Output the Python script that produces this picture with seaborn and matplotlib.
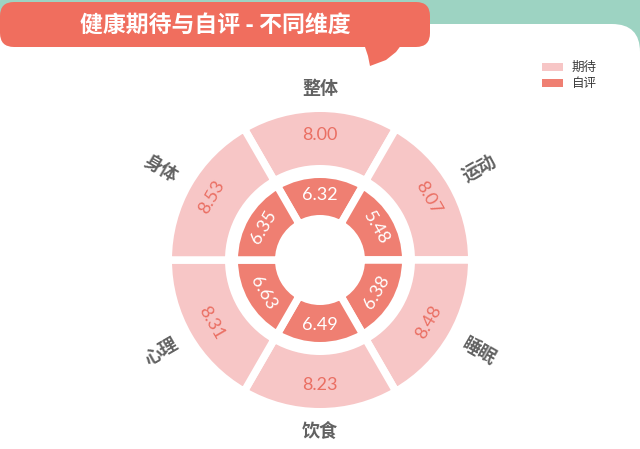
import numpy as np
import matplotlib
matplotlib.use("Agg")
import matplotlib.pyplot as plt
from matplotlib.patches import FancyBboxPatch, Polygon, Rectangle
import seaborn as sns

# data
categories = ["整体", "运动", "睡眠", "饮食", "心理", "身体"]
expect_scores = [8.00, 8.07, 8.48, 8.23, 8.31, 8.53]
self_scores = [6.32, 5.48, 6.38, 6.49, 6.63, 6.35]
series_names = ["期待", "自评"]
title = "健康期待与自评 - 不同维度"

sns.set_theme(style="white")
plt.rcParams["font.family"] = ["Noto Sans CJK SC", "DejaVu Sans"]

mint = "#9dd3c2"
banner = "#f06e5e"
light = "#f7c6c6"
dark = "#ef7f72"
value_red = "#ea6f63"
label_grey = "#626262"

W, H = 640, 449
fig = plt.figure(figsize=(6.4, 4.49), dpi=100)
ax = fig.add_axes([0, 0, 1, 1])


def Y(y):
    # pixel row from the top -> data y
    return H - y


# background: mint strip and white card with a rounded top-right corner
ax.add_patch(Rectangle((0, Y(60)), W, 60, color=mint, zorder=0))
ax.add_patch(FancyBboxPatch((-60, -60), W + 60, H - 24 + 60,
                            boxstyle="round,pad=0,rounding_size=28",
                            fc="white", ec="none", zorder=1))

# title banner with speech tail
ax.add_patch(FancyBboxPatch((0, Y(47)), 430, 45,
                            boxstyle="round,pad=0,rounding_size=14",
                            fc=banner, ec="none", zorder=2))
tail = [(358, 44), (402, 44), (396, 52), (386, 60), (370, 66), (368, 56), (364, 44)]
ax.add_patch(Polygon([(x, Y(y)) for x, y in tail], closed=True, fc=banner, ec="none", zorder=2))
ax.text(215, Y(25), title, color="white", fontsize=16.5, fontweight="bold",
        ha="center", va="center", zorder=5)

# rings
n = len(categories)
center = (320, Y(260))
ax.pie(np.ones(n), radius=151.75, center=center, startangle=120, counterclock=False,
       colors=[light] * n,
       wedgeprops=dict(width=60.5, edgecolor="white", linewidth=5.4, zorder=3))
ax.pie(np.ones(n), radius=85.75, center=center, startangle=120, counterclock=False,
       colors=[dark] * n,
       wedgeprops=dict(width=44.5, edgecolor="white", linewidth=5.4, zorder=3))

num_font = ["Lato", "DejaVu Sans"]
thetas = 90 - 360 / n * np.arange(n)
for th, cat, e, s in zip(thetas, categories, expect_scores, self_scores):
    rad = np.deg2rad(th)
    c, si = np.cos(rad), np.sin(rad)
    rot = (th % 180) - 90
    ax.text(center[0] + 125 * c, center[1] + 125 * si, f"{e:.2f}", color=value_red,
            fontsize=13, family=num_font, rotation=rot, rotation_mode="anchor",
            ha="center", va="center", zorder=6)
    ax.text(center[0] + 65 * c, center[1] + 65 * si, f"{s:.2f}", color="white",
            fontsize=13, family=num_font, rotation=rot, rotation_mode="anchor",
            ha="center", va="center", zorder=6)
    crot = ((th + 90) % 180) - 90
    if abs(crot) == 90:
        crot = 0
        r_lab = 171
    else:
        r_lab = 184
    ax.text(center[0] + r_lab * c, center[1] + r_lab * si, cat, color=label_grey,
            fontsize=13, fontweight="bold", rotation=crot, rotation_mode="anchor",
            ha="center", va="center", zorder=6)

# legend
for i, (name, col) in enumerate(zip(series_names, [light, dark])):
    yc = 67 + 16 * i
    ax.add_patch(Rectangle((542, Y(yc + 4)), 21, 8, fc=col, ec="none", zorder=6))
    ax.text(572, Y(yc), name, color="#3a3a3a", fontsize=9, ha="left", va="center", zorder=6)

ax.set_xlim(0, W)
ax.set_ylim(0, H)
ax.axis("off")

fig.savefig("out.png", dpi=100, facecolor="white")
plt.close(fig)
